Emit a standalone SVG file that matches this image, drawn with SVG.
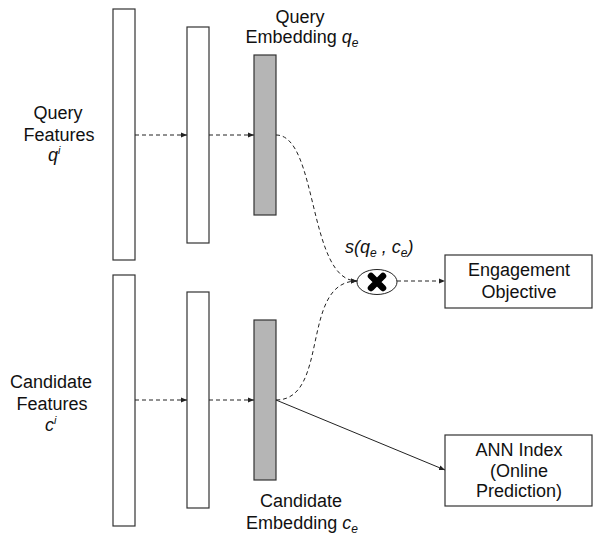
<svg xmlns="http://www.w3.org/2000/svg" width="593" height="537" viewBox="0 0 593 537">
<style>
.box{fill:#fff;stroke:#333;stroke-width:1.2}
.emb{fill:#b5b5b5;stroke:#333;stroke-width:1.2}
.t{font-family:"Liberation Sans",Arial,sans-serif;font-size:18px;fill:#111}
.i{font-style:italic}
.d{fill:none;stroke:#222;stroke-width:1;stroke-dasharray:4,3}
.s{fill:none;stroke:#222;stroke-width:1}
</style>
<defs>
<marker id="ah" markerWidth="7" markerHeight="6" refX="6" refY="3" orient="auto" markerUnits="userSpaceOnUse">
<path d="M0,0.5 L6,3 L0,5.5 Z" fill="#222"/>
</marker>
</defs>
<g id="query-input"><rect class="box" x="113" y="9" width="22" height="251"/></g>
<g id="query-hidden"><rect class="box" x="187" y="27" width="22" height="216"/></g>
<g id="query-embedding"><rect class="emb" x="254" y="55" width="22" height="160"/>
<text class="t" text-anchor="middle" x="300" y="23">Query</text>
<text class="t" text-anchor="middle" x="302" y="43">Embedding <tspan class="i">q</tspan><tspan class="i" font-size="12" dy="4">e</tspan></text></g>
<g id="cand-input"><rect class="box" x="113" y="275" width="22" height="251"/></g>
<g id="cand-hidden"><rect class="box" x="187" y="292" width="22" height="216"/></g>
<g id="cand-embedding"><rect class="emb" x="254" y="320" width="22" height="160"/>
<text class="t" text-anchor="middle" x="301" y="507">Candidate</text>
<text class="t" text-anchor="middle" x="302" y="529">Embedding <tspan class="i">c</tspan><tspan class="i" font-size="12" dy="4">e</tspan></text></g>
<g id="query-features"><text class="t" text-anchor="middle" x="58" y="119">Query</text>
<text class="t" text-anchor="middle" x="59" y="141">Features</text>
<text class="t i" x="48" y="161">q<tspan font-size="11" dy="-7">i</tspan></text></g>
<g id="cand-features"><text class="t" text-anchor="middle" x="51" y="388">Candidate</text>
<text class="t" text-anchor="middle" x="52" y="410">Features</text>
<text class="t i" x="45" y="431">c<tspan font-size="11" dy="-7">i</tspan></text></g>
<g id="dot"><ellipse cx="377" cy="282" rx="20" ry="12.5" fill="#fff" stroke="#222" stroke-width="1"/>
<path d="M371,276 L383,288 M383,276 L371,288" stroke="#000" stroke-width="6.5" stroke-linecap="round"/>
<text class="t i" x="345" y="253">s(q<tspan font-size="12" dy="4">e</tspan><tspan dy="-4"> , c</tspan><tspan font-size="12" dy="4">e</tspan><tspan dy="-4">)</tspan></text></g>
<g id="engagement"><rect class="box" x="445" y="255" width="147" height="53"/>
<text class="t" text-anchor="middle" x="519" y="276">Engagement</text>
<text class="t" text-anchor="middle" x="519" y="298">Objective</text></g>
<g id="ann"><rect class="box" x="445" y="435" width="147" height="71"/>
<text class="t" text-anchor="middle" x="519" y="456">ANN Index</text>
<text class="t" text-anchor="middle" x="519" y="477">(Online</text>
<text class="t" text-anchor="middle" x="519" y="497">Prediction)</text></g>
<g id="connectors">
<line class="d" x1="135" y1="135" x2="187" y2="135" marker-end="url(#ah)"/>
<line class="d" x1="209" y1="135" x2="254" y2="135" marker-end="url(#ah)"/>
<line class="d" x1="135" y1="400" x2="187" y2="400" marker-end="url(#ah)"/>
<line class="d" x1="209" y1="400" x2="254" y2="400" marker-end="url(#ah)"/>
<path class="d" d="M276,135 C318,135 308,281 357,281" marker-end="url(#ah)"/>
<path class="d" d="M276,400 C330,400 300,281 357,281" marker-end="url(#ah)"/>
<line class="d" x1="397" y1="281" x2="445" y2="281" marker-end="url(#ah)"/>
<line class="s" x1="276" y1="400" x2="445" y2="470" marker-end="url(#ah)"/>
</g>
</svg>
